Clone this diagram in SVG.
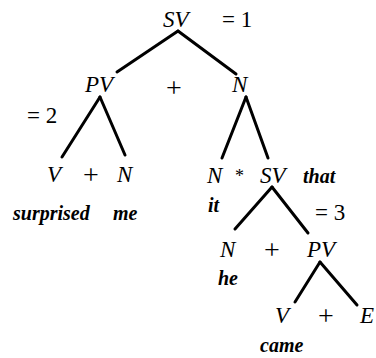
<svg xmlns="http://www.w3.org/2000/svg" width="376" height="358" viewBox="0 0 376 358" font-family="Liberation Serif, DejaVu Serif, Times New Roman, serif">
<style>
text{fill:#000}
.s{font-style:italic;font-size:23px}
.w{font-style:italic;font-size:20px;font-weight:bold}
.r{font-size:23px}
.c line{stroke:#000;stroke-width:3;stroke-linecap:round}
</style>
<rect width="376" height="358" fill="#fff"/>
<g class="c" id="connectors">
<line x1="178" y1="31" x2="117" y2="72"/>
<line x1="178" y1="31" x2="236" y2="74"/>
<line x1="100" y1="97" x2="62" y2="157"/>
<line x1="100" y1="97" x2="125" y2="155"/>
<line x1="246" y1="97" x2="222" y2="158"/>
<line x1="246" y1="97" x2="268" y2="158"/>
<line x1="272" y1="187" x2="235" y2="229"/>
<line x1="272" y1="187" x2="308" y2="233"/>
<line x1="320" y1="262" x2="295" y2="302"/>
<line x1="320" y1="262" x2="357" y2="305"/>
</g>
<g id="root"><text class="s" x="163" y="27">SV</text><text class="r" x="222" y="27">= 1</text></g>
<g id="pv1"><text class="s" x="85" y="92">PV</text><text class="r" x="27" y="123">= 2</text></g>
<g id="plus1"><text class="r" x="174" y="97" text-anchor="middle" style="font-size:28px">+</text></g>
<g id="n1"><text class="s" x="232" y="92">N</text></g>
<g id="v1"><text class="s" x="47" y="182">V</text><text class="w" x="13" y="220">surprised</text></g>
<g id="plus2"><text class="r" x="91" y="184" text-anchor="middle" style="font-size:28px">+</text></g>
<g id="n2"><text class="s" x="117" y="182">N</text><text class="w" x="113" y="220">me</text></g>
<g id="n3"><text class="s" x="207" y="183">N</text><text class="r" x="235" y="182" style="font-size:18px">*</text><text class="w" x="208" y="212">it</text></g>
<g id="sv2"><text class="s" x="260" y="183">SV</text><text class="w" x="303" y="183">that</text><text class="r" x="315" y="220">= 3</text></g>
<g id="n4"><text class="s" x="220" y="257">N</text><text class="w" x="218" y="285">he</text></g>
<g id="plus3"><text class="r" x="272" y="259" text-anchor="middle" style="font-size:28px">+</text></g>
<g id="pv2"><text class="s" x="307" y="257">PV</text></g>
<g id="v2"><text class="s" x="275" y="323">V</text><text class="w" x="260" y="352">came</text></g>
<g id="plus4"><text class="r" x="326" y="325" text-anchor="middle" style="font-size:28px">+</text></g>
<g id="e"><text class="s" x="360" y="323">E</text></g>
</svg>
